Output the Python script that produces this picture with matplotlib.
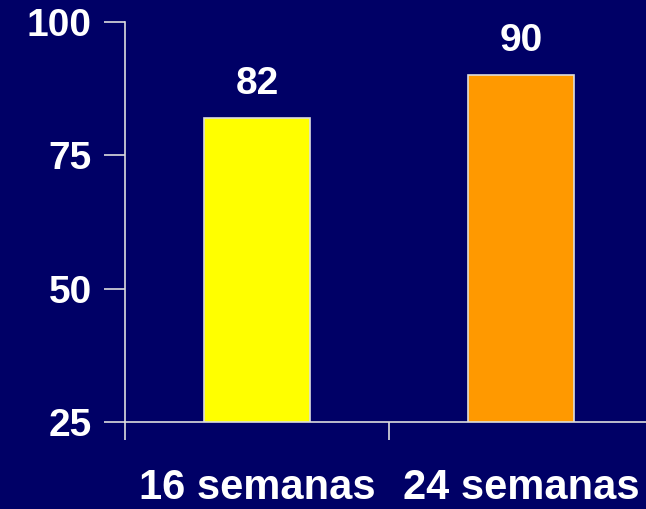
import matplotlib
matplotlib.use("Agg")
import matplotlib.pyplot as plt

categories = ["16 semanas", "24 semanas"]
values = [82, 90]
colors = ["#FFFF00", "#FF9900"]
yticks = [25, 50, 75, 100]

bg = "#000066"
W, H = 646, 509
fig = plt.figure(figsize=(W / 100, H / 100), dpi=100, facecolor=bg)
left, right = 125 / W, 653 / W
bottom, top = (H - 422) / H, (H - 22) / H
ax = fig.add_axes([left, bottom, right - left, top - bottom], facecolor=bg)

x = [0.5, 1.5]
ax.bar(x, values, width=0.4, color=colors, edgecolor="#DDDDDD", linewidth=1.2,
       bottom=0, zorder=2)
ax.set_xlim(0, 2)
ax.set_ylim(25, 100)

font = "Liberation Sans"
for xi, v in zip(x, values):
    ax.text(xi, v + 3.0, str(v), ha="center", va="bottom", color="white",
            fontsize=28, fontweight="bold", family=font)

ax.set_yticks(yticks)
ax.set_yticklabels([str(t) for t in yticks], fontsize=28, fontweight="bold",
                   family=font, color="white")
ax.set_xticks([0, 1, 2])
ax.set_xticklabels([])
ax.set_xticks(x, minor=True)
ax.set_xticklabels(categories, minor=True, fontsize=30, fontweight="bold",
                   family=font, color="white")
ax.tick_params(axis="x", which="minor", length=0, pad=33)
ax.tick_params(axis="x", which="major", length=13, width=1.2, color="#DDDDDD", direction="out")
ax.tick_params(axis="y", length=15, width=1.2, color="#DDDDDD", direction="out", pad=9)

for s in ["top", "right"]:
    ax.spines[s].set_visible(False)
for s in ["left", "bottom"]:
    ax.spines[s].set_color("#DDDDDD")
    ax.spines[s].set_linewidth(1.2)

fig.savefig("out.png", dpi=100, facecolor=bg)
